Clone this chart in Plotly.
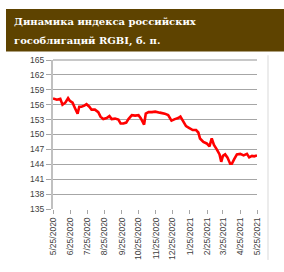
import plotly.graph_objects as go

# Data
dates = ["2020-05-25", "2020-06-01", "2020-06-07", "2020-06-11", "2020-06-16", "2020-06-21",
         "2020-06-24", "2020-06-29", "2020-07-03", "2020-07-08", "2020-07-11", "2020-07-15",
         "2020-07-20", "2020-07-24", "2020-07-29", "2020-08-02", "2020-08-08", "2020-08-14",
         "2020-08-18", "2020-08-23", "2020-08-29", "2020-09-03", "2020-09-07", "2020-09-13",
         "2020-09-19", "2020-09-23", "2020-09-28", "2020-10-03", "2020-10-07", "2020-10-13",
         "2020-10-19", "2020-10-25", "2020-10-29", "2020-11-02", "2020-11-04", "2020-11-07",
         "2020-11-12", "2020-11-18", "2020-11-24", "2020-12-02", "2020-12-11", "2020-12-17",
         "2020-12-23", "2020-12-29", "2021-01-04", "2021-01-08", "2021-01-13", "2021-01-18",
         "2021-01-24", "2021-01-30", "2021-02-05", "2021-02-09", "2021-02-12", "2021-02-18",
         "2021-02-24", "2021-03-01", "2021-03-05", "2021-03-09", "2021-03-14", "2021-03-19",
         "2021-03-22", "2021-03-25", "2021-03-29", "2021-04-02", "2021-04-07", "2021-04-10",
         "2021-04-14", "2021-04-19", "2021-04-25", "2021-05-01", "2021-05-07", "2021-05-11",
         "2021-05-16", "2021-05-20", "2021-05-25"]
rgbi = [157.25, 157.0, 157.2, 156.0, 156.4, 157.3,
        156.8, 156.4, 155.4, 154.2, 155.6, 155.6,
        155.8, 156.1, 155.6, 155.0, 155.0, 154.5,
        153.6, 153.1, 153.3, 153.7, 153.1, 153.2,
        153.0, 152.2, 152.2, 152.4, 153.1, 153.9,
        153.8, 153.9, 153.3, 152.6, 152.0, 154.2,
        154.5, 154.5, 154.6, 154.4, 154.2, 153.9,
        152.8, 153.1, 153.3, 153.6, 152.6, 151.7,
        151.3, 150.9, 150.9, 150.4, 149.2, 148.5,
        148.2, 147.6, 149.2, 147.9, 147.0, 146.0,
        144.5, 145.7, 146.0, 145.4, 144.1, 144.1,
        145.0, 146.0, 146.1, 145.8, 146.1, 145.4,
        145.7, 145.6, 145.8]
tick_dates = ["2020-05-25", "2020-06-25", "2020-07-25", "2020-08-25", "2020-09-25",
              "2020-10-25", "2020-11-25", "2020-12-25", "2021-01-25", "2021-02-25",
              "2021-03-25", "2021-04-25", "2021-05-25"]
tick_labels = ["5/25/2020", "6/25/2020", "7/25/2020", "8/25/2020", "9/25/2020",
               "10/25/2020", "11/25/2020", "12/25/2020", "1/25/2021", "2/25/2021",
               "3/25/2021", "4/25/2021", "5/25/2021"]
y_ticks = [135, 138, 141, 144, 147, 150, 153, 156, 159, 162, 165]
title_lines = ["Динамика индекса российских", "гособлигаций RGBI, б. п."]

W, H = 284, 272
L, R, T, B = 53, 27, 60, 54
pw, ph = W - L - R, H - T - B

def px(x):
    return (x - L) / pw

def py(y):
    return 1 - (y - T) / ph

fig = go.Figure()
fig.add_trace(go.Scatter(x=dates, y=rgbi, mode="lines",
                         line=dict(color="#ff0000", width=2.6), hoverinfo="skip"))

shapes = [
    dict(type="rect", xref="paper", yref="paper", x0=px(6), x1=px(284), y0=py(51), y1=py(6),
         fillcolor="#5e4300", line=dict(width=0), layer="above"),
    dict(type="line", xref="paper", yref="paper", x0=px(268), x1=px(268), y0=py(272), y1=py(55),
         line=dict(color="#d9d9d9", width=1)),
    dict(type="line", xref="paper", yref="paper", x0=0, x1=1, y0=1, y1=1,
         line=dict(color="#c8c8c8", width=2), layer="above"),
]

annotations = [
    dict(text=title_lines[0], xref="paper", yref="paper", x=px(12), y=py(19), xanchor="left",
         yanchor="middle", showarrow=False,
         font=dict(family="DejaVu Serif", size=10, color="white", weight="bold")),
    dict(text=title_lines[1], xref="paper", yref="paper", x=px(12), y=py(40), xanchor="left",
         yanchor="middle", showarrow=False,
         font=dict(family="DejaVu Serif", size=10, color="white", weight="bold")),
]

fig.update_layout(
    width=W, height=H, margin=dict(l=L, r=R, t=T, b=B),
    paper_bgcolor="white", plot_bgcolor="white", showlegend=False,
    shapes=shapes, annotations=annotations,
    xaxis=dict(range=["2020-05-25", "2021-05-25"], tickmode="array", tickvals=tick_dates,
               ticktext=tick_labels, tickangle=-90, ticks="outside", ticklen=4,
               tickcolor="#a6a6a6", showgrid=False, showline=False, zeroline=False,
               tickfont=dict(family="Liberation Sans", size=8.5, color="#404040")),
    yaxis=dict(range=[135, 165], tickmode="array", tickvals=y_ticks, ticks="outside",
               ticklen=5, tickcolor="#a6a6a6", showgrid=True, gridcolor="#a6a6a6",
               gridwidth=1, showline=True, linecolor="#c0c0c0", linewidth=2,
               zeroline=False,
               tickfont=dict(family="Liberation Sans", size=8.5, color="#404040")),
)

fig.write_html("out.html")
